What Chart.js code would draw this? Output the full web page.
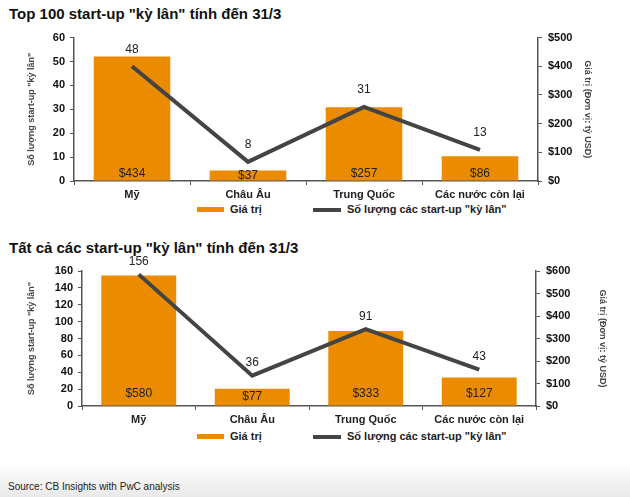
<!DOCTYPE html>
<html>
<head>
<meta charset="utf-8">
<script src="https://cdn.jsdelivr.net/npm/chart.js@4/dist/chart.umd.min.js"></script>
<style>
  html, body { margin: 0; padding: 0; }
  body {
    width: 630px; height: 497px; position: relative; overflow: hidden;
    font-family: "Liberation Sans", Arial, sans-serif; color: #111;
    background: linear-gradient(to bottom, #fff 0px, #fff 462px, #e9e9e9 497px);
  }
  .title { position: absolute; left: 9px; font-size: 15px; font-weight: bold; color: #111; white-space: nowrap; }
  .box { position: absolute; left: 0; width: 630px; }
  .legend { position: absolute; font-size: 11px; font-weight: bold; color: #222; white-space: nowrap; }
  .legend span.sw { position: absolute; display: block; }
  .legend span.tx { position: absolute; line-height: 14px; }
  .source { position: absolute; left: 8px; top: 481px; font-size: 10px; color: #222; }
</style>
</head>
<body>

<div class="title" style="top:5px;">Top 100 start-up "kỳ lân" tính đến 31/3</div>
<div class="box" style="top:25px;height:175px;"><canvas id="chart1"></canvas></div>
<div class="legend" style="top:202px;left:0;">
  <span class="sw" style="left:197px;top:5px;width:27px;height:5px;background:#eb8c00;"></span>
  <span class="tx" style="left:230px;top:0;">Giá trị</span>
  <span class="sw" style="left:313px;top:6px;width:28px;height:4px;background:#444;"></span>
  <span class="tx" style="left:347px;top:0;">Số lượng các start-up "kỳ lân"</span>
</div>

<div class="title" style="top:239px;">Tất cả các start-up "kỳ lân" tính đến 31/3</div>
<div class="box" style="top:250px;height:175px;"><canvas id="chart2"></canvas></div>
<div class="legend" style="top:429px;left:0;">
  <span class="sw" style="left:197px;top:5px;width:27px;height:5px;background:#eb8c00;"></span>
  <span class="tx" style="left:230px;top:0;">Giá trị</span>
  <span class="sw" style="left:313px;top:6px;width:28px;height:4px;background:#444;"></span>
  <span class="tx" style="left:347px;top:0;">Số lượng các start-up "kỳ lân"</span>
</div>

<div class="source">Source: CB Insights with PwC analysis</div>

<script>
// Data
const regions = ['Mỹ', 'Châu Âu', 'Trung Quốc', 'Các nước còn lại'];

const top100Counts = [48, 8, 31, 13];
const top100Values = [434, 37, 257, 86];

const allCounts = [156, 36, 91, 43];
const allValues = [580, 77, 333, 127];

const barLabel = 'Giá trị';
const lineLabel = 'Số lượng các start-up "kỳ lân"';
const leftTitle = 'Số lượng start-up "kỳ lân"';
const rightTitle = 'Giá trị (Đơn vị: tỷ USD)';

const FONT = '"Liberation Sans", Arial, sans-serif';
const ORANGE = '#eb8c00';
const GREY = '#444444';

// Draw value labels ($ in bars, counts above line)
const valueLabels = {
    id: 'valueLabels',
    afterDatasetsDraw(chart, args, opts) {
        const ctx = chart.ctx;
        ctx.save();
        ctx.font = '12px ' + FONT;
        ctx.fillStyle = '#222';
        ctx.textAlign = 'center';
        ctx.textBaseline = 'middle';
        const barData = chart.data.datasets[1].data;
        chart.getDatasetMeta(1).data.forEach((bar, i) => {
            const y = Math.max(bar.base - opts.barOffset, (bar.y + bar.base) / 2);
            ctx.fillText('$' + barData[i], bar.x, y);
        });
        const lineData = chart.data.datasets[0].data;
        chart.getDatasetMeta(0).data.forEach((pt, i) => {
            ctx.fillText(String(lineData[i]), pt.x, pt.y - opts.lineOffset);
        });
        ctx.restore();
    }
};

function makeChart(id, counts, values, cfg) {
    const ctx = document.getElementById(id).getContext('2d');
    const tickFont = { family: FONT, size: 11, weight: 'bold' };
    const titleFont = { family: FONT, size: 9, weight: 'bold' };
    return new Chart(ctx, {
        type: 'bar',
        data: {
            labels: regions,
            datasets: [{
                type: 'line',
                label: lineLabel,
                data: counts,
                yAxisID: 'y',
                borderColor: GREY,
                borderWidth: 4,
                pointRadius: 0,
                tension: 0,
                order: 0
            }, {
                type: 'bar',
                label: barLabel,
                data: values,
                yAxisID: 'y2',
                backgroundColor: ORANGE,
                categoryPercentage: 1,
                barPercentage: 0.66,
                order: 1
            }]
        },
        options: {
            responsive: true,
            maintainAspectRatio: false,
            animation: false,
            layout: { padding: { top: cfg.padTop, left: 26, right: cfg.padRight, bottom: 0 } },
            plugins: {
                legend: { display: false },
                tooltip: { enabled: false },
                valueLabels: { barOffset: cfg.barOffset, lineOffset: cfg.lineOffset }
            },
            scales: {
                x: {
                    offset: true,
                    grid: { display: true, offset: true, drawOnChartArea: false, tickLength: 4, color: '#555' },
                    border: { color: '#555', width: 1.5 },
                    ticks: { font: tickFont, color: '#222', padding: 3, maxRotation: 0 },
                    afterFit: s => { s.height = 19; }
                },
                y: {
                    position: 'left',
                    min: 0,
                    max: cfg.leftMax,
                    grid: { drawOnChartArea: false, tickLength: 4, color: '#555' },
                    border: { color: '#555', width: 1.5 },
                    ticks: { stepSize: cfg.leftStep, font: tickFont, color: '#111', padding: 5 },
                    title: {
                        display: true, text: leftTitle, color: '#444',
                        font: titleFont, padding: { top: 0, bottom: 0 }
                    },
                    afterFit: s => { s.width = cfg.leftWidth; }
                },
                y2: {
                    position: 'right',
                    min: 0,
                    max: cfg.rightMax,
                    grid: { drawOnChartArea: false, tickLength: 4, color: '#555' },
                    border: { color: '#555', width: 1.5 },
                    ticks: {
                        stepSize: cfg.rightStep, font: tickFont, color: '#111', padding: 6,
                        callback: v => '$' + v
                    },
                    title: {
                        display: true, text: rightTitle, color: '#444',
                        font: titleFont, padding: { top: 0, bottom: 0 }
                    },
                    afterFit: s => { s.width = cfg.rightWidth; }
                }
            }
        },
        plugins: [valueLabels]
    });
}

makeChart('chart1', top100Counts, top100Values, {
    padTop: 10, padRight: 37, leftWidth: 48, rightWidth: 55,
    leftMax: 60, leftStep: 10, rightMax: 500, rightStep: 100,
    barOffset: 7, lineOffset: 17
});

makeChart('chart2', allCounts, allValues, {
    padTop: 21, padRight: 22, leftWidth: 56, rightWidth: 72,
    leftMax: 160, leftStep: 20, rightMax: 600, rightStep: 100,
    barOffset: 12, lineOffset: 13
});
</script>
</body>
</html>
